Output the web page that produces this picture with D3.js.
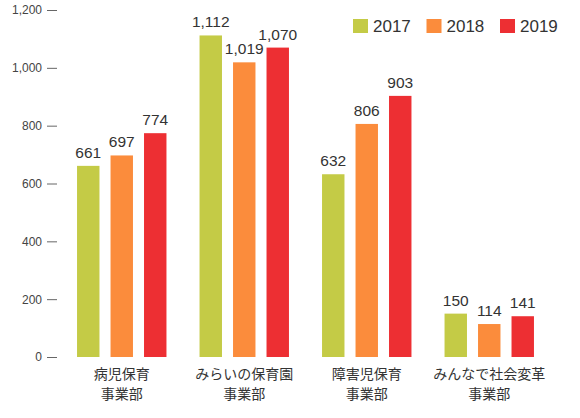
<!DOCTYPE html>
<html>
<head>
<meta charset="utf-8">
<script src="https://cdn.jsdelivr.net/npm/d3@7"></script>
<style>
  body { margin: 0; background: #fff; }
  svg { display: block; }
</style>
</head>
<body>
<div id="chart"></div>
<script>
// Chart data
var categories = [["病児保育", "事業部"], ["みらいの保育園", "事業部"], ["障害児保育", "事業部"], ["みんなで社会変革", "事業部"]];
var years = ["2017", "2018", "2019"];
var values2017 = [661, 1112, 632, 150];
var values2018 = [697, 1019, 806, 114];
var values2019 = [774, 1070, 903, 141];
var yTicks = [0, 200, 400, 600, 800, 1000, 1200];
var colors = ["#c4cb46", "#fb8c3c", "#ed2f33"];

var w = 580, h = 418;
var series = [values2017, values2018, values2019];

var svg = d3.select("#chart")
  .append("svg")
    .attr("width", w)
    .attr("height", h);

// Scales
var yScale = d3.scaleLinear().domain([0, 1200]).range([357, 10]);
var x0 = d3.scaleBand()
  .domain(d3.range(categories.length))
  .range([60.5, 550.5])
  .paddingInner(0.27)
  .paddingOuter(0.135);
var x1 = d3.scaleBand()
  .domain(years)
  .range([0, x0.bandwidth()])
  .paddingInner(0.33)
  .paddingOuter(0);

// Y axis (no domain line)
var yAxis = d3.axisLeft(yScale)
  .tickValues(yTicks)
  .tickFormat(d3.format(","))
  .tickSize(10)
  .tickPadding(5);

var yg = svg.append("g")
  .attr("transform", "translate(57,0)")
  .call(yAxis);
yg.select(".domain").remove();
yg.selectAll(".tick line").attr("stroke", "#666").attr("stroke-width", 1);
yg.selectAll(".tick text")
  .attr("fill", "#444")
  .style("font-family", "'Liberation Sans', Arial, sans-serif")
  .style("font-size", "12px");

// Bars and value labels
var groups = svg.selectAll(".grp").data(categories).enter().append("g")
  .attr("class", "grp")
  .attr("transform", function(d, i) { return "translate(" + x0(i) + ",0)"; });

groups.each(function(cat, i) {
  var g = d3.select(this);
  var rows = years.map(function(y, k) { return { year: y, k: k, value: series[k][i] }; });

  g.selectAll("rect").data(rows).enter().append("rect")
    .attr("x", function(d) { return x1(d.year); })
    .attr("y", function(d) { return yScale(d.value); })
    .attr("width", x1.bandwidth())
    .attr("height", function(d) { return yScale(0) - yScale(d.value); })
    .attr("fill", function(d) { return colors[d.k]; });

  g.selectAll("text.val").data(rows).enter().append("text")
    .attr("class", "val")
    .attr("x", function(d) { return x1(d.year) + x1.bandwidth() / 2; })
    .attr("y", function(d) { return yScale(d.value) - 8; })
    .attr("text-anchor", "middle")
    .attr("fill", "#333")
    .style("font-family", "'Liberation Sans', Arial, sans-serif")
    .style("font-size", "15.5px")
    .text(function(d) { return d3.format(",")(d.value); });

  // Category label, two lines as separate texts
  g.selectAll("text.cat").data(cat).enter().append("text")
    .attr("class", "cat")
    .attr("x", x0.bandwidth() / 2)
    .attr("y", function(d, j) { return 378.5 + j * 20.5; })
    .attr("text-anchor", "middle")
    .attr("fill", "#333")
    .style("font-family", "'Noto Sans CJK JP', sans-serif")
    .style("font-size", "14px")
    .text(function(d) { return d; });
});

// Legend
var legend = svg.selectAll(".leg").data(years).enter().append("g")
  .attr("class", "leg")
  .attr("transform", function(d, i) { return "translate(" + (353 + i * 73.5) + ",19)"; });
legend.append("rect")
  .attr("width", 15)
  .attr("height", 14)
  .attr("fill", function(d, i) { return colors[i]; });
legend.append("text")
  .attr("x", 20)
  .attr("y", 13)
  .attr("fill", "#333")
  .style("font-family", "'Liberation Sans', Arial, sans-serif")
  .style("font-size", "17px")
  .text(function(d) { return d; });
</script>
</body>
</html>
